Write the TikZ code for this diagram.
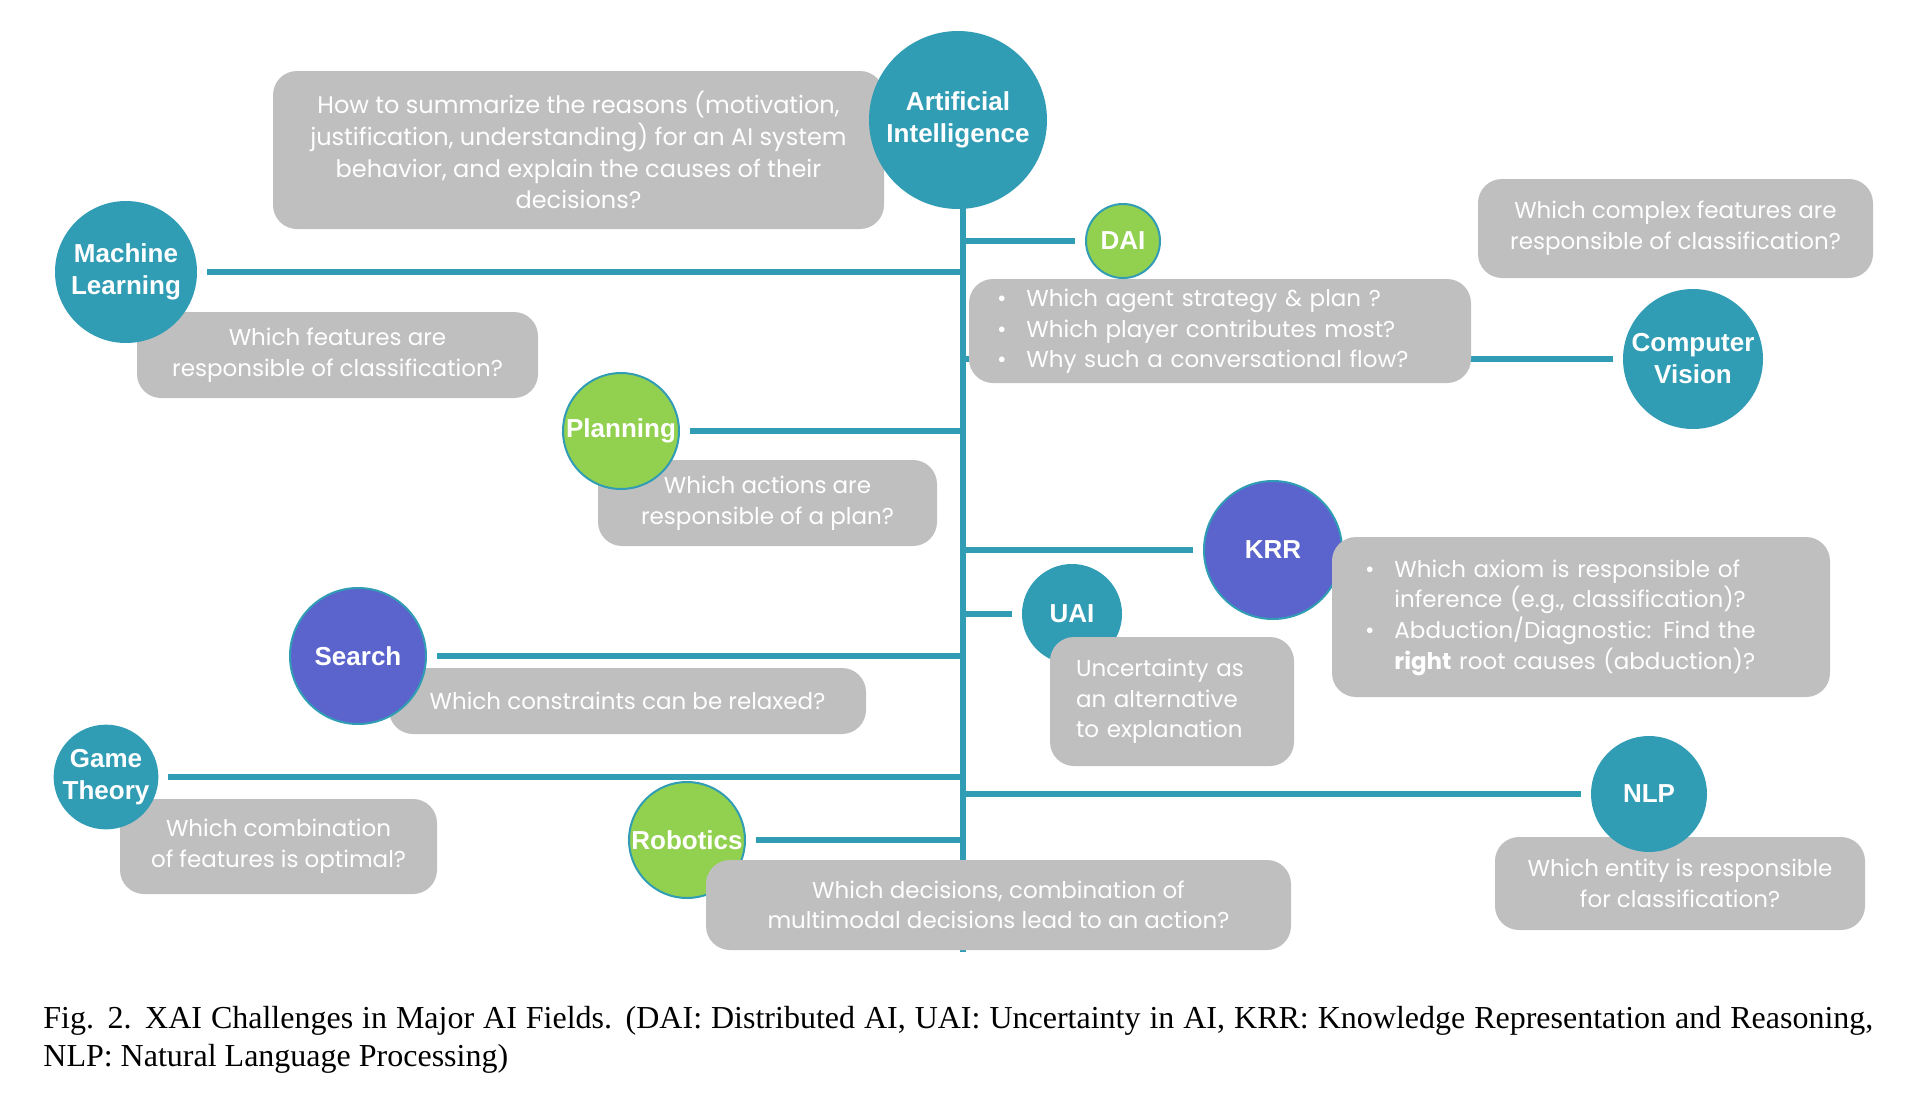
\documentclass[tikz,border=0pt]{standalone}
\usepackage{fontspec}
\setmainfont{Liberation Serif}
\newfontfamily\gothic{Poppins}
\newfontfamily\arialb{Liberation Sans}
\usetikzlibrary{backgrounds}

\definecolor{aiteal}{RGB}{49,157,181}
\definecolor{aigreen}{RGB}{146,208,80}
\definecolor{aiblue}{RGB}{91,100,204}
\definecolor{boxgray}{RGB}{191,191,191}

\newcommand{\headfont}{\arialb\bfseries\fontsize{13}{16}\selectfont}
\newcommand{\qfont}{\gothic\fontsize{11.5}{15.3}\selectfont}

\begin{document}
\begin{tikzpicture}[x=0.5pt,y=-0.5pt,
    field/.style={circle,fill=aiteal,draw=aiteal,line width=1pt,text=white,
      align=center,inner sep=0pt,font=\headfont},
    fieldg/.style={field,fill=aigreen},
    fieldb/.style={field,fill=aiblue},
    qbox/.style={rectangle,rounded corners=12pt,fill=boxgray,text=white,
      align=center,inner sep=0pt,font=\qfont},
    link/.style={draw=aiteal,line width=3pt,shorten <=5pt}]

    \useasboundingbox (0,0) rectangle (1918,1098);

    % questions lying under their fields
    \node[qbox,minimum width=305.5pt,minimum height=79pt,
      font=\gothic\fontsize{12}{15.9}\selectfont] (qai) at (578.5,150)
      {How to summarize the reasons (motivation,\\
       justification, understanding) for an AI system\\
       behavior, and explain the causes of their\\
       decisions?};
    \node[qbox,minimum width=200.5pt,minimum height=43pt] (qml) at (337.5,355)
      {Which features are\\responsible of classification?};
    \node[qbox,minimum height=52pt,text width=223pt,align=left,inner xsep=14pt] (qdai) at (1220,331)
      {\begin{tabular}{@{}l@{\hspace{10pt}}l@{}}
        \textbullet & Which agent strategy \& plan ?\\
        \textbullet & Which player contributes most?\\
        \textbullet & Why such a conversational flow?
       \end{tabular}};
    \node[qbox,minimum width=197.5pt,minimum height=49.5pt] (qcv) at (1675.5,228.5)
      {Which complex features are\\responsible of classification?};
    \node[qbox,minimum width=169.5pt,minimum height=43pt] (qplan) at (767.5,503)
      {Which actions are\\responsible of a plan?};
    \node[qbox,minimum width=238.5pt,minimum height=33pt] (qsearch) at (627.5,701)
      {Which constraints can be relaxed?};
    \node[qbox,minimum width=158.5pt,minimum height=47.5pt] (qgt) at (278.5,846.5)
      {Which combination\\of features is optimal?};
    \node[qbox,minimum width=185pt,minimum height=46.5pt] (qnlp) at (1680,883.5)
      {Which entity is responsible\\for classification?};

    % fields
    \node[field,minimum size=88pt] (ai) at (958,120) {Artificial\\Intelligence};
    \node[field,minimum size=70pt] (ml) at (126,272) {Machine\\Learning};
    \node[fieldg,minimum size=37pt] (dai) at (1123,241) {DAI};
    \node[field,minimum size=69pt] (cv) at (1693,359) {Computer\\Vision};
    \node[fieldg,minimum size=58pt] (plan) at (621,431) {Planning};
    \node[fieldb,minimum size=69pt] (krr) at (1273,550) {KRR};
    \node[field,minimum size=49pt] (uai) at (1072,614) {UAI};
    \node[fieldb,minimum size=68pt] (search) at (358,656) {Search};
    \node[field,minimum size=51pt] (gt) at (106,777) {Game\\Theory};
    \node[field,minimum size=57pt] (nlp) at (1649,794) {NLP};
    \node[fieldg,minimum size=58pt] (rob) at (687,840) {Robotics};

    % questions lying over their fields
    \node[qbox,minimum height=80pt,text width=216pt,align=left,inner xsep=16.5pt] (qkrr) at (1581,617)
      {\begin{tabular}{@{}l@{\hspace{10pt}}l@{}}
        \textbullet & Which axiom is responsible of\\
                    & inference (e.g., classification)?\\
        \textbullet & Abduction/Diagnostic: Find the\\
                    & \textbf{right} root causes (abduction)?
       \end{tabular}};
    \node[qbox,minimum height=64.5pt,text width=96pt,align=left,inner xsep=13pt] (quai) at (1172,701.5)
      {Uncertainty as\\an alternative\\to explanation};
    \node[qbox,minimum width=292.5pt,minimum height=45pt] (qrob) at (998.5,905)
      {Which decisions, combination of\\multimodal decisions lead to an action?};

    % trunk and branches
    \coordinate (tr) at (963,952);
    \begin{scope}[on background layer]
        \draw[link,shorten <=0pt] (ai.center -| tr) -- (tr);
        \foreach \f in {ml,dai,cv,plan,krr,uai,search,gt,nlp,rob}
            \draw[link] (\f) -- (\f -| tr);
    \end{scope}

    \node[anchor=north west,inner sep=0pt,text width=915pt,align=justify,
      font=\fontsize{16}{19}\selectfont] (cap) at (43,1006)
      {Fig. 2. XAI Challenges in Major AI Fields. (DAI: Distributed AI, UAI: Uncertainty in AI, KRR: Knowledge Representation and Reasoning,\linebreak NLP: Natural Language Processing)};

\end{tikzpicture}
\end{document}
